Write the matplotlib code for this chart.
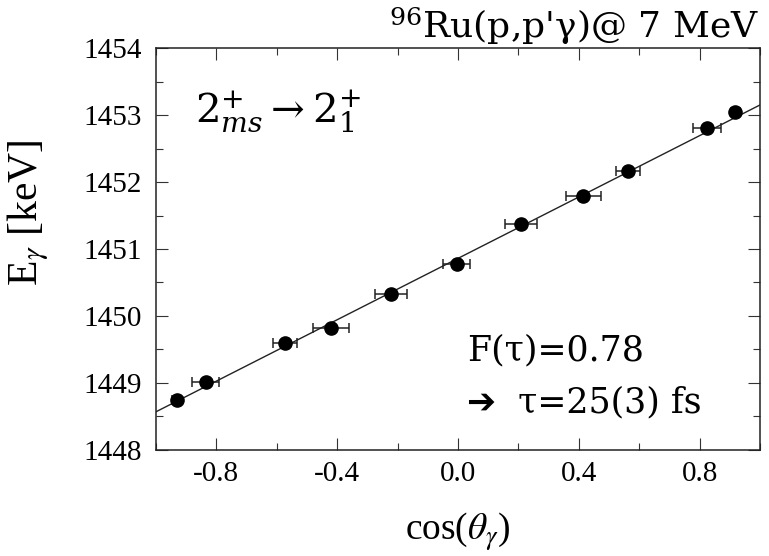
import matplotlib
matplotlib.use("Agg")
import matplotlib.pyplot as plt
from matplotlib.ticker import MultipleLocator, FormatStrFormatter

plt.rcParams['mathtext.fontset'] = 'stix'

# data
cos_theta = [-0.932, -0.836, -0.573, -0.421, -0.223, -0.005, 0.209, 0.415, 0.562, 0.824, 0.918]
energy = [1448.74, 1449.01, 1449.59, 1449.82, 1450.33, 1450.78, 1451.38, 1451.80, 1452.17, 1452.81, 1453.05]
cos_err = [0.015, 0.045, 0.040, 0.059, 0.053, 0.046, 0.054, 0.059, 0.040, 0.046, 0.015]
fit_x = [-1.0, 1.0]
fit_y = [1448.565, 1453.155]
xticks = [-0.8, -0.4, 0.0, 0.4, 0.8]

fig = plt.figure(figsize=(7.69, 5.56), dpi=100)
ax = fig.add_axes([0.2029, 0.1915, 0.7854, 0.7213])

ax.plot(fit_x, fit_y, color='#222222', lw=1.0, zorder=2)
ax.errorbar(cos_theta, energy, xerr=cos_err, fmt='o', color='black', ms=9.5,
            ecolor='#222222', elinewidth=1.1, capsize=3.5, capthick=1.1, zorder=3)

ax.set_xlim(-1, 1)
ax.set_ylim(1448, 1454)
ax.xaxis.set_major_locator(MultipleLocator(0.4))
ax.xaxis.set_minor_locator(MultipleLocator(0.2))
ax.yaxis.set_major_locator(MultipleLocator(1))
ax.yaxis.set_minor_locator(MultipleLocator(0.5))
ax.xaxis.set_major_formatter(FormatStrFormatter('%.1f'))
ax.set_xticks(xticks)

ax.tick_params(which='both', direction='in', top=True, right=True, color='#333333', width=0.8)
ax.tick_params(which='major', length=8.6, labelsize=21)
ax.tick_params(axis='x', which='major', pad=8)
ax.tick_params(axis='y', which='major', pad=10)
ax.tick_params(which='minor', length=5)
for lab in ax.get_xticklabels() + ax.get_yticklabels():
    lab.set_family('Liberation Serif')
for s in ax.spines.values():
    s.set_linewidth(1.1)
    s.set_color('#222222')

ax.set_xlabel(r'cos($\theta_\gamma$)', fontsize=27, family='Liberation Serif')
ax.xaxis.set_label_coords(0.5, -0.205)
ax.xaxis.label.set_va('center')
ax.set_ylabel(r'E$_\gamma$ [keV]', fontsize=30, family='Liberation Serif')
ax.yaxis.set_label_coords(-0.212, 0.59)
ax.yaxis.label.set_va('center')

fig.text(0.988, 0.9317, r"$^{96}$Ru(p,p'γ)@ 7 MeV", ha='right', va='baseline',
         fontsize=26, family=['DejaVu Serif'], math_fontfamily='dejavuserif')

ax.text(0.064, 0.814, r'$\mathrm{2}^{+}_{ms}\rightarrow \mathrm{2}^{+}_{\mathrm{1}}$', transform=ax.transAxes,
        fontsize=29, ha='left', va='baseline', math_fontfamily='dejavuserif')

ax.text(0.515, 0.223, 'F(τ)=0.78', transform=ax.transAxes, fontsize=25,
        family=['DejaVu Serif', 'DejaVu Sans'], ha='left', va='baseline')
ax.text(0.515, 0.0935, '➔  τ=25(3) fs', transform=ax.transAxes, fontsize=25,
        family=['DejaVu Serif', 'DejaVu Sans'], ha='left', va='baseline')

fig.savefig('out.png', dpi=100)
